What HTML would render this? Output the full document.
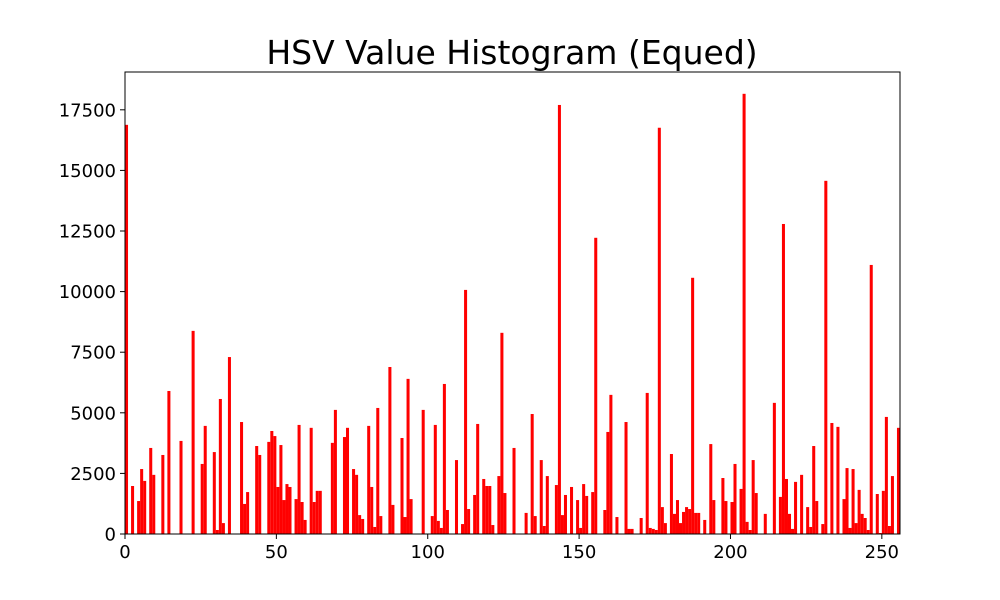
<!DOCTYPE html>
<html><head><meta charset="utf-8"><style>
html,body{margin:0;padding:0;background:#fff;}
svg{display:block;font-family:"DejaVu Sans","Liberation Sans",sans-serif;}
</style></head>
<body>
<svg id="chart" width="1000" height="600" viewBox="0 0 1000 600" xmlns="http://www.w3.org/2000/svg">
<rect width="1000" height="600" fill="#fff"/>
<text x="512" y="64" font-size="33" text-anchor="middle">HSV Value Histogram (Equed)</text>
<g id="bars"></g>
<g id="axes"></g>
</svg>
<script>
const binIndex = [0,2,4,5,6,8,9,12,14,18,22,25,26,29,30,31,32,34,38,39,40,43,44,47,48,49,50,51,52,53,54,56,57,58,59,61,62,63,64,68,69,72,73,75,76,77,78,80,81,82,83,84,87,88,91,92,93,94,98,101,102,103,104,105,106,109,111,112,113,115,116,118,119,120,121,123,124,125,128,132,134,135,137,138,139,142,143,144,145,147,149,150,151,152,154,155,158,159,160,162,165,166,167,170,172,173,174,175,176,177,178,180,181,182,183,184,185,186,187,188,189,191,193,194,197,198,200,201,203,204,205,206,207,208,211,214,216,217,218,219,220,221,223,225,226,227,228,230,231,233,235,237,238,239,240,241,242,243,244,245,246,248,249,250,251,252,253,255];
const binCount = [16880,1980,1360,2680,2190,3550,2440,3260,5900,3840,8380,2890,4460,3380,165,5570,450,7300,4620,1240,1730,3630,3260,3800,4250,4040,1940,3670,1400,2060,1940,1440,4500,1320,580,4380,1320,1780,1780,3760,5120,4000,4380,2680,2440,780,620,4460,1940,290,5200,740,6890,1200,3960,700,6400,1440,5120,740,4500,540,250,6190,990,3050,410,10070,1030,1610,4540,2270,1980,1980,370,2390,8300,1690,3550,870,4950,740,3050,330,2390,2020,17700,780,1610,1940,1400,250,2060,1570,1730,12220,990,4210,5740,700,4620,210,210,660,5820,250,210,165,16760,1110,450,3300,830,1400,450,910,1110,1030,10570,870,870,580,3710,1400,2310,1360,1320,2890,1860,18160,500,165,3050,1690,830,5410,1530,12790,2270,830,210,2150,2440,1110,290,3630,1360,410,14570,4580,4420,1440,2720,250,2680,450,1820,830,660,165,11100,1650,40,1780,4830,330,2390,4380];
const yTicks = [0,2500,5000,7500,10000,12500,15000,17500];
const xTicks = [0,50,100,150,200,250];

const L=125,R=900,T=72,B=534,XMAX=256,YMAX=19060;
const xs=v=>L+(v/XMAX)*(R-L);
const ys=v=>B-(v/YMAX)*(B-T);
const NS="http://www.w3.org/2000/svg";
const bars=document.getElementById('bars'),axes=document.getElementById('axes');
binIndex.forEach((b,i)=>{
  const r=document.createElementNS(NS,'rect');
  r.setAttribute('x',xs(b));
  r.setAttribute('width',xs(b+1)-xs(b));
  r.setAttribute('y',ys(binCount[i]));
  r.setAttribute('height',B-ys(binCount[i]));
  r.setAttribute('fill','#ff0000');
  
  
  bars.appendChild(r);
});
const frame=document.createElementNS(NS,'rect');
frame.setAttribute('x',L);frame.setAttribute('y',T);
frame.setAttribute('width',R-L);frame.setAttribute('height',B-T);
frame.setAttribute('fill','none');frame.setAttribute('stroke','#000');frame.setAttribute('stroke-width','1');


axes.appendChild(frame);
yTicks.forEach(v=>{
  const y=ys(v);
  const l=document.createElementNS(NS,'line');
  l.setAttribute('x1',L-5);l.setAttribute('x2',L);l.setAttribute('y1',y);l.setAttribute('y2',y);l.setAttribute('stroke','#000');
  
  
  axes.appendChild(l);
  const t=document.createElementNS(NS,'text');
  t.setAttribute('x',L-9);t.setAttribute('y',y+6.5);t.setAttribute('font-size','18');t.setAttribute('text-anchor','end');
  t.textContent=v;
  
  
  axes.appendChild(t);
});
xTicks.forEach(v=>{
  const x=xs(v);
  const l=document.createElementNS(NS,'line');
  l.setAttribute('x1',x);l.setAttribute('x2',x);l.setAttribute('y1',B);l.setAttribute('y2',B+5);l.setAttribute('stroke','#000');
  
  
  axes.appendChild(l);
  const t=document.createElementNS(NS,'text');
  t.setAttribute('x',x);t.setAttribute('y',B+24);t.setAttribute('font-size','18');t.setAttribute('text-anchor','middle');
  t.textContent=v;
  
  
  axes.appendChild(t);
});
</script>
</body></html>
